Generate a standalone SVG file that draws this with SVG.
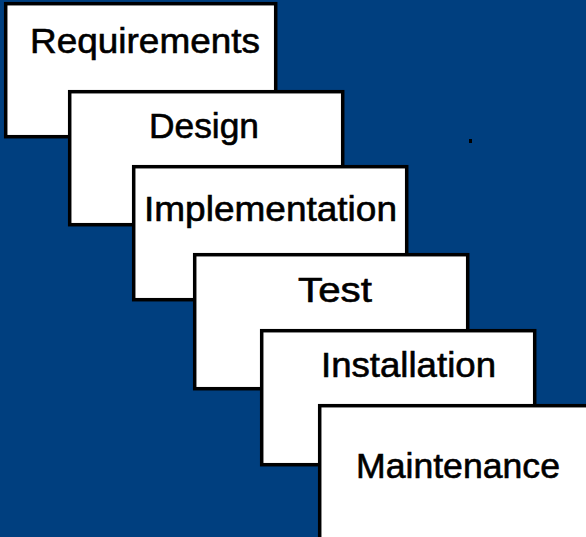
<svg xmlns="http://www.w3.org/2000/svg" width="586" height="537" viewBox="0 0 586 537">
  <style>
    .box { fill: #ffffff; stroke: #000000; stroke-width: 3.5; }
    .lbl { font-family: "Liberation Sans", Arial, sans-serif; font-size: 35px; fill: #000000; stroke: #000000; stroke-width: 0.6; }
  </style>
  <rect x="0" y="0" width="586" height="537" fill="#003F7F"/>
  <rect x="469" y="139" width="3" height="4" fill="#000000"/>
  <g id="requirements">
    <rect class="box" x="5.7" y="3.7" width="270" height="133"/>
    <text class="lbl" x="30" y="53" textLength="230" lengthAdjust="spacingAndGlyphs">Requirements</text>
  </g>
  <g id="design">
    <rect class="box" x="69.7" y="91.7" width="273" height="133"/>
    <text class="lbl" x="149" y="138" textLength="110" lengthAdjust="spacingAndGlyphs">Design</text>
  </g>
  <g id="implementation">
    <rect class="box" x="133.7" y="166.7" width="273" height="133"/>
    <text class="lbl" x="144" y="221" textLength="253" lengthAdjust="spacingAndGlyphs">Implementation</text>
  </g>
  <g id="test">
    <rect class="box" x="194.7" y="254.7" width="273" height="134"/>
    <text class="lbl" x="298" y="302" textLength="74" lengthAdjust="spacingAndGlyphs">Test</text>
  </g>
  <g id="installation">
    <rect class="box" x="261.7" y="330.7" width="273" height="134"/>
    <text class="lbl" x="321" y="377" textLength="175" lengthAdjust="spacingAndGlyphs">Installation</text>
  </g>
  <g id="maintenance">
    <rect class="box" x="319.7" y="405.7" width="300" height="200"/>
    <text class="lbl" x="356" y="478" textLength="204" lengthAdjust="spacingAndGlyphs">Maintenance</text>
  </g>
  <g id="connectors"></g>
</svg>
